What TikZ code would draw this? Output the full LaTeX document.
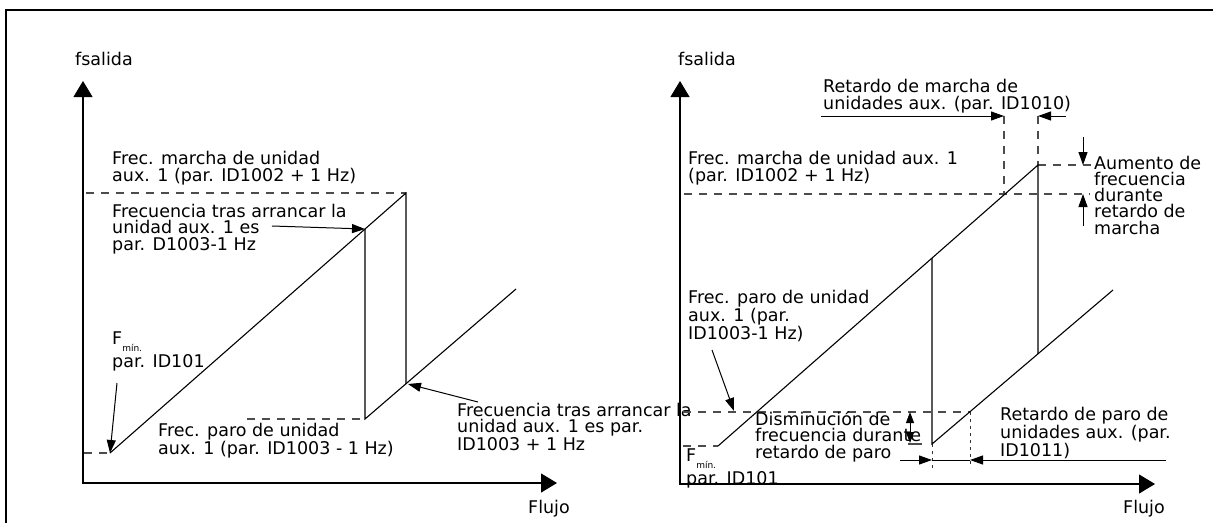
\documentclass[tikz,border=0pt]{standalone}
\usepackage{fontspec}
\setmainfont{DejaVu Sans}
\usetikzlibrary{arrows.meta,calc}
\tikzset{
  lbl/.style={font=\fontsize{17.5}{16.2}\selectfont, inner sep=0pt, anchor=base west, align=left},
  curve/.style={line width=1.1pt, black},
  axis/.style={line width=1.2pt, -{Triangle[length=16pt,width=19pt]}},
  guide/.style={line width=1.1pt, black!70, dash pattern=on 8pt off 7pt},
  fineguide/.style={line width=1pt, black!80, dash pattern=on 3pt off 4pt},
  pointer/.style={line width=1pt, -{Triangle[length=13pt,width=9pt]}},
  dpointer/.style={line width=1pt, {Triangle[length=11pt,width=8pt]}-{Triangle[length=11pt,width=8pt]}},
}
\newcommand{\fmin}{F\raisebox{-0.35em}{\fontsize{9}{9}\selectfont mín.}}
\begin{document}
\begin{tikzpicture}[x=1pt,y=-1pt]
\useasboundingbox (0,0) rectangle (1213,523);
% frame
\draw[line width=1.3pt] (6,523) -- (6,10) -- (1213,10);

% ---------- left panel ----------
\coordinate (LO) at (83,483);
\coordinate (LOx) at (82,483);
\coordinate (LYT) at (83,81);
\coordinate (LXE) at (557,483);
\coordinate (LA) at (110,453);
\coordinate (LB) at (406,193);
\coordinate (LC) at (406,384);
\coordinate (LD) at (365,229);
\coordinate (LE) at (365,419);
\coordinate (LF) at (516,289);
\coordinate (LTopL) at (86,193);
\coordinate (LLowL) at (247,419);
\coordinate (LMinL) at (84,453);
\coordinate (LP1) at (272,226);
\coordinate (LP2) at (117,383);
\coordinate (LP3) at (478,402);
\coordinate (LCt) at (408,384);

\draw[axis] (LO) -- (LYT);
\draw[axis] (LOx) -- (LXE);
\draw[guide] (LTopL) -- (LB);
\draw[guide] (LLowL) -- (LE);
\draw[guide] (LMinL) -- (LA);
\draw[curve] (LA) -- (LB) -- (LC);
\draw[curve] (LD) -- (LE) -- (LF);
\draw[pointer] (LP1) -- (LD);
\draw[pointer] (LP2) -- (LA);
\draw[pointer] (LP3) -- (LCt);

\node[lbl] (lfs) at (75,65) {fsalida};
\node[lbl] (lmarcha) at (112,181) {Frec. marcha de unidad\\aux. 1 (par. ID1002 + 1 Hz)};
\node[lbl] (ltras1) at (112,250) {Frecuencia tras arrancar la\\unidad aux. 1 es\\par. D1003-1 Hz};
\node[lbl] (lfmin) at (112,367) {\fmin\\[2pt]par. ID101};
\node[lbl] (lparo) at (158,454) {Frec. paro de unidad\\aux. 1 (par. ID1003 - 1 Hz)};
\node[lbl] (ltras2) at (457,450) {Frecuencia tras arrancar la\\unidad aux. 1 es par.\\ID1003 + 1 Hz};
\node[lbl] (lflujo) at (528,513) {Flujo};

% ---------- right panel ----------
\coordinate (RO) at (680,484);
\coordinate (ROx) at (679,484);
\coordinate (RYT) at (680,81);
\coordinate (RXE) at (1155,484);
\coordinate (RA) at (718,446);
\coordinate (RB) at (1038,165);
\coordinate (RC) at (932,258);
\coordinate (RD) at (932,444);
\coordinate (RF) at (1113,290);
\coordinate (RG) at (1038,354);
\coordinate (RH) at (970,412);
\coordinate (RM1) at (684,194);
\coordinate (RM2) at (1090,194);
\coordinate (RU2) at (1092,165);
\coordinate (RV1t) at (1004,116);
\coordinate (RV1b) at (1004,194);
\coordinate (RV2t) at (1038,116);
\coordinate (RT1) at (821,116);
\coordinate (RT2) at (1066,116);
\coordinate (RUa) at (1083,137);
\coordinate (RUat) at (1083,165);
\coordinate (RUb) at (1083,226);
\coordinate (RUbt) at (1083,194);
\coordinate (RS1) at (683,412);
\coordinate (RS2) at (683,446);
\coordinate (RHb) at (970,468);
\coordinate (RDb) at (932,468);
\coordinate (RDm1) at (908,444);
\coordinate (RDm2) at (922,444);
\coordinate (RDa) at (910,412);
\coordinate (RDbb) at (910,443);
\coordinate (RB1) at (900,460);
\coordinate (RB2) at (932,460);
\coordinate (RB3) at (970,460);
\coordinate (RB4) at (1166,460);
\coordinate (RP1) at (712,350);
\coordinate (RP1t) at (734,411);

\draw[axis] (RO) -- (RYT);
\draw[axis] (ROx) -- (RXE);
\draw[guide] (RM1) -- (RM2);
\draw[guide] (RB) -- (RU2);
\draw[guide] (RV1t) -- (RV1b);
\draw[guide] (RV2t) -- (RB);
\draw[guide] (RS1) -- (RH);
\draw[guide] (RS2) -- (RA);
\draw[fineguide] (RH) -- (RHb);
\draw[fineguide] (RD) -- (RDb);
\draw[line width=1.1pt, black!70] (RDm1) -- (RDm2);
\draw[curve] (RA) -- (RB) -- (RG);
\draw[curve] (RC) -- (RD) -- (RF);
\draw[pointer] (RT1) -- (RV1t);
\draw[pointer] (RT2) -- (RV2t);
\draw[pointer] (RUa) -- (RUat);
\draw[pointer] (RUb) -- (RUbt);
\draw[dpointer] (RDa) -- (RDbb);
\draw[pointer] (RB1) -- (RB2);
\draw[line width=1pt] (RB2) -- (RB3);
\draw[pointer] (RB4) -- (RB3);
\draw[pointer] (RP1) -- (RP1t);

\node[lbl] (rfs) at (678,65) {fsalida};
\node[lbl] (rretm) at (823,109) {Retardo de marcha de\\unidades aux. (par. ID1010)};
\node[lbl] (rmarcha) at (688,181) {Frec. marcha de unidad aux. 1\\(par. ID1002 + 1 Hz)};
\node[lbl] (raum) at (1094,234) {Aumento de\\frecuencia\\durante\\retardo de\\marcha};
\node[lbl] (rparo) at (688,339) {Frec. paro de unidad\\aux. 1 (par.\\ID1003-1 Hz)};
\node[lbl] (rdism) at (755,458) {Disminución de\\frecuencia durante\\retardo de paro};
\node[lbl] (rfmin) at (686,484) {\fmin\\[2pt]par. ID101};
\node[lbl] (rretp) at (1000,456) {Retardo de paro de\\unidades aux. (par.\\ID1011)};
\node[lbl] (rflujo) at (1123,513) {Flujo};
\end{tikzpicture}
\end{document}
